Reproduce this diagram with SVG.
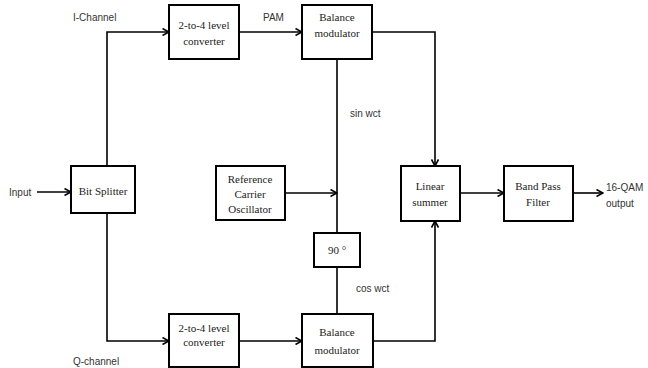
<svg xmlns="http://www.w3.org/2000/svg" width="648" height="368" viewBox="0 0 648 368">
<defs>
<marker id="arr" viewBox="0 0 8 8" refX="7.5" refY="4" markerWidth="8" markerHeight="8" markerUnits="userSpaceOnUse" orient="auto">
<path d="M1,0.5 L7.5,4 L1,7.5" fill="none" stroke="#000" stroke-width="1.6"/>
</marker>
<style>
.box{fill:#fff;stroke:#000;stroke-width:2}
.bt{font-family:"Liberation Serif","DejaVu Serif",serif;font-size:11px;fill:#222;text-anchor:middle}
.lb{font-family:"Liberation Sans","DejaVu Sans",sans-serif;font-size:10px;fill:#333}
.ln{fill:none;stroke:#000;stroke-width:1.6}
</style>
</defs>
<rect width="648" height="368" fill="#fff"/>
<g id="connectors">
<path class="ln" d="M37,192 L71,192" marker-end="url(#arr)"/>
<path class="ln" d="M107,166 L107,32 L169,32" marker-end="url(#arr)"/>
<path class="ln" d="M107,213 L107,341 L169,341" marker-end="url(#arr)"/>
<path class="ln" d="M239,32 L302,32" marker-end="url(#arr)"/>
<path class="ln" d="M239,341 L302,341" marker-end="url(#arr)"/>
<path class="ln" d="M337,59 L337,233"/>
<path class="ln" d="M337,267 L337,314"/>
<path class="ln" d="M285,193 L337,193" marker-end="url(#arr)"/>
<path class="ln" d="M372,32 L435,32 L435,166" marker-end="url(#arr)"/>
<path class="ln" d="M373,341 L435,341 L435,221" marker-end="url(#arr)"/>
<path class="ln" d="M460,193 L504,193" marker-end="url(#arr)"/>
<path class="ln" d="M573,193 L603,193" marker-end="url(#arr)"/>
</g>
<g id="labels">
<text class="lb" x="73" y="21">I-Channel</text>
<text class="lb" x="263" y="21">PAM</text>
<text class="lb" x="9" y="196">Input</text>
<text class="lb" x="350" y="117">sin wct</text>
<text class="lb" x="356" y="292">cos wct</text>
<text class="lb" x="73" y="365">Q-channel</text>
<text class="lb" x="606" y="191">16-QAM</text>
<text class="lb" x="606" y="207">output</text>
</g>
<g id="bit-splitter">
<rect class="box" x="71" y="166" width="64" height="47"/>
<text class="bt" x="103" y="195">Bit Splitter</text>
</g>
<g id="converter-i">
<rect class="box" x="169" y="5" width="70" height="54"/>
<text class="bt" x="204" y="29">2-to-4 level</text>
<text class="bt" x="204" y="45">converter</text>
</g>
<g id="converter-q">
<rect class="box" x="169" y="314" width="70" height="53"/>
<text class="bt" x="204" y="332">2-to-4 level</text>
<text class="bt" x="204" y="346">converter</text>
</g>
<g id="balance-mod-i">
<rect class="box" x="302" y="5" width="70" height="54"/>
<text class="bt" x="337" y="21">Balance</text>
<text class="bt" x="337" y="37">modulator</text>
</g>
<g id="balance-mod-q">
<rect class="box" x="302" y="314" width="71" height="53"/>
<text class="bt" x="337" y="336">Balance</text>
<text class="bt" x="337" y="354">modulator</text>
</g>
<g id="ref-oscillator">
<rect class="box" x="216" y="166" width="69" height="54"/>
<text class="bt" x="250" y="183">Reference</text>
<text class="bt" x="250" y="198">Carrier</text>
<text class="bt" x="250" y="213">Oscillator</text>
</g>
<g id="phase-shift">
<rect class="box" x="314" y="233" width="46" height="34"/>
<text class="bt" x="337" y="254">90 °</text>
</g>
<g id="linear-summer">
<rect class="box" x="401" y="166" width="59" height="55"/>
<text class="bt" x="430" y="190">Linear</text>
<text class="bt" x="430" y="206">summer</text>
</g>
<g id="band-pass-filter">
<rect class="box" x="504" y="166" width="69" height="55"/>
<text class="bt" x="538" y="190">Band Pass</text>
<text class="bt" x="538" y="206">Filter</text>
</g>
</svg>
